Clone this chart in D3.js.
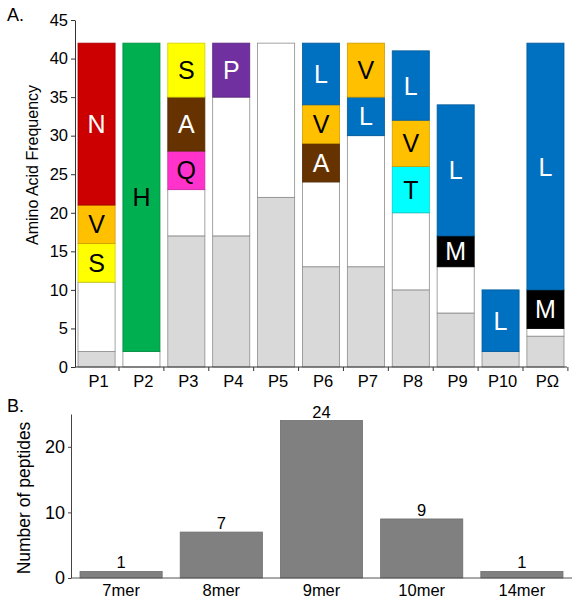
<!DOCTYPE html>
<html><head><meta charset="utf-8">
<script src="https://cdn.jsdelivr.net/npm/d3@7"></script>
<style>
body{margin:0;background:#fff}
svg{display:block}
text{font-family:"Liberation Sans",Arial,sans-serif;fill:#000}
</style></head>
<body><svg id="c" width="585" height="600"></svg>
<script>
// ---------- data ----------
const positions = ["P1","P2","P3","P4","P5","P6","P7","P8","P9","P10","PΩ"];
const backgroundCounts = [2,0,17,17,22,13,13,10,7,2,4];   // grey
const otherCounts      = [9,2,6,18,20,11,17,10,6,0,1];    // white
const residueLetters = [["S","V","N"],["H"],["Q","A","S"],["P"],[],["A","V","L"],["L","V"],["T","V","L"],["M","L"],["L"],["M","L"]];
const residueCounts  = [[5,5,21],[40],[5,7,7],[7],[],[5,5,8],[5,7],[6,6,9],[4,17],[8],[5,32]];
const freqTicks = [0,5,10,15,20,25,30,35,40,45];

const peptideLengths = ["7mer","8mer","9mer","10mer","14mer"];
const peptideCounts  = [1,7,24,9,1];
const peptideTicks   = [0,10,20];

const residueColor = {N:"#CC0000",H:"#00B050",S:"#FFFF00",V:"#FFC000",Q:"#FF33CC",A:"#663300",P:"#7030A0",L:"#0070C0",T:"#00FFFF",M:"#000000"};
const residueText  = {N:"#fff",H:"#000",S:"#000",V:"#000",Q:"#000",A:"#fff",P:"#fff",L:"#fff",T:"#000",M:"#fff"};

const svg = d3.select("#c");

// ---------- panel A ----------
const xA = d3.scaleBand().domain(positions).range([75,567]).paddingInner(0.174).paddingOuter(0.067);
const yA = d3.scaleLinear().domain([0,45]).range([367,20]);

const segs = [];
positions.forEach((p,i)=>{
  let c = 0;
  if (backgroundCounts[i]>0){ segs.push({p,y0:c,y1:c+backgroundCounts[i],fill:"#D9D9D9"}); c+=backgroundCounts[i]; }
  if (otherCounts[i]>0){ segs.push({p,y0:c,y1:c+otherCounts[i],fill:"#FFFFFF"}); c+=otherCounts[i]; }
  residueLetters[i].forEach((aa,j)=>{
    segs.push({p,y0:c,y1:c+residueCounts[i][j],fill:residueColor[aa],aa});
    c+=residueCounts[i][j];
  });
});

const gA = svg.append("g");
gA.selectAll("rect.seg").data(segs).join("rect")
  .attr("x",d=>xA(d.p)).attr("width",xA.bandwidth())
  .attr("y",d=>yA(d.y1)).attr("height",d=>yA(d.y0)-yA(d.y1))
  .attr("fill",d=>d.fill).attr("stroke",d=>d.aa? d3.color(d.fill).darker(0.6):"#8c8c8c").attr("stroke-width",0.8);

gA.selectAll("text.aa").data(segs.filter(d=>d.aa)).join("text")
  .attr("x",d=>xA(d.p)+xA.bandwidth()/2)
  .attr("y",d=>yA((d.y0+d.y1)/2))
  .attr("dy","0.36em").attr("text-anchor","middle")
  .style("font-size","25px").style("fill",d=>residueText[d.aa])
  .text(d=>d.aa);

// y axis
const axA = gA.append("g").attr("transform","translate(75,0)")
  .call(d3.axisLeft(yA).tickValues(freqTicks).tickSize(4).tickPadding(3).tickSizeOuter(0));
axA.select(".domain").attr("stroke","#333");
axA.selectAll(".tick line").attr("stroke","#333");
axA.selectAll(".tick text").style("font-size","16.5px").style("font-family","Liberation Sans, Arial, sans-serif").attr("fill","#000");

// x axis
const bx = gA.append("g").attr("transform","translate(0,367)");
bx.append("line").attr("x1",75).attr("x2",567).attr("stroke","#333");
const stepA = xA.step();
bx.selectAll("line.t").data(positions).join("line")
  .attr("x1",d=>xA(d)+xA.bandwidth()+(stepA-xA.bandwidth())/2)
  .attr("x2",d=>xA(d)+xA.bandwidth()+(stepA-xA.bandwidth())/2)
  .attr("y1",0).attr("y2",4).attr("stroke","#333");
bx.selectAll("text").data(positions).join("text")
  .attr("x",d=>xA(d)+xA.bandwidth()/2+2).attr("y",20)
  .attr("text-anchor","middle").style("font-size","16.5px").text(d=>d);

gA.append("text").attr("transform","translate(38,165) rotate(-90)")
  .attr("text-anchor","middle").style("font-size","16px").text("Amino Acid Frequency");
svg.append("text").attr("x",7).attr("y",21).style("font-size","18px").text("A.");

// ---------- panel B ----------
const xB = d3.scaleBand().domain(peptideLengths).range([71,572]).paddingInner(0.18).paddingOuter(0.09);
const yB = d3.scaleLinear().domain([0,25]).range([578,414]);
const gB = svg.append("g");

gB.selectAll("rect").data(peptideLengths).join("rect")
  .attr("x",d=>xB(d)).attr("width",xB.bandwidth())
  .attr("y",(d,i)=>yB(peptideCounts[i])).attr("height",(d,i)=>yB(0)-yB(peptideCounts[i]))
  .attr("fill","#808080").attr("stroke","#6e6e6e").attr("stroke-width",0.8);

gB.selectAll("text.v").data(peptideLengths).join("text")
  .attr("x",d=>xB(d)+xB.bandwidth()/2).attr("y",(d,i)=>yB(peptideCounts[i])-3)
  .attr("text-anchor","middle").style("font-size","16.5px").text((d,i)=>peptideCounts[i]);

const axB = gB.append("g").attr("transform","translate(71,0)")
  .call(d3.axisLeft(yB).tickValues(peptideTicks).tickSize(3).tickPadding(3).tickSizeOuter(0));
axB.select(".domain").attr("stroke","#444");
axB.selectAll(".tick line").attr("stroke","#444");
axB.selectAll(".tick text").style("font-size","18px").style("font-family","Liberation Sans, Arial, sans-serif").attr("fill","#000");

const bxB = gB.append("g").attr("transform","translate(0,578)");
bxB.append("line").attr("x1",71).attr("x2",572).attr("stroke","#555");
bxB.selectAll("text").data(peptideLengths).join("text")
  .attr("x",d=>xB(d)+xB.bandwidth()/2).attr("y",18)
  .attr("text-anchor","middle").style("font-size","16.5px").text(d=>d);

gB.append("text").attr("transform","translate(30,498) rotate(-90)")
  .attr("text-anchor","middle").style("font-size","17.5px").text("Number of peptides");
svg.append("text").attr("x",7).attr("y",412).style("font-size","18px").text("B.");
</script></body></html>
